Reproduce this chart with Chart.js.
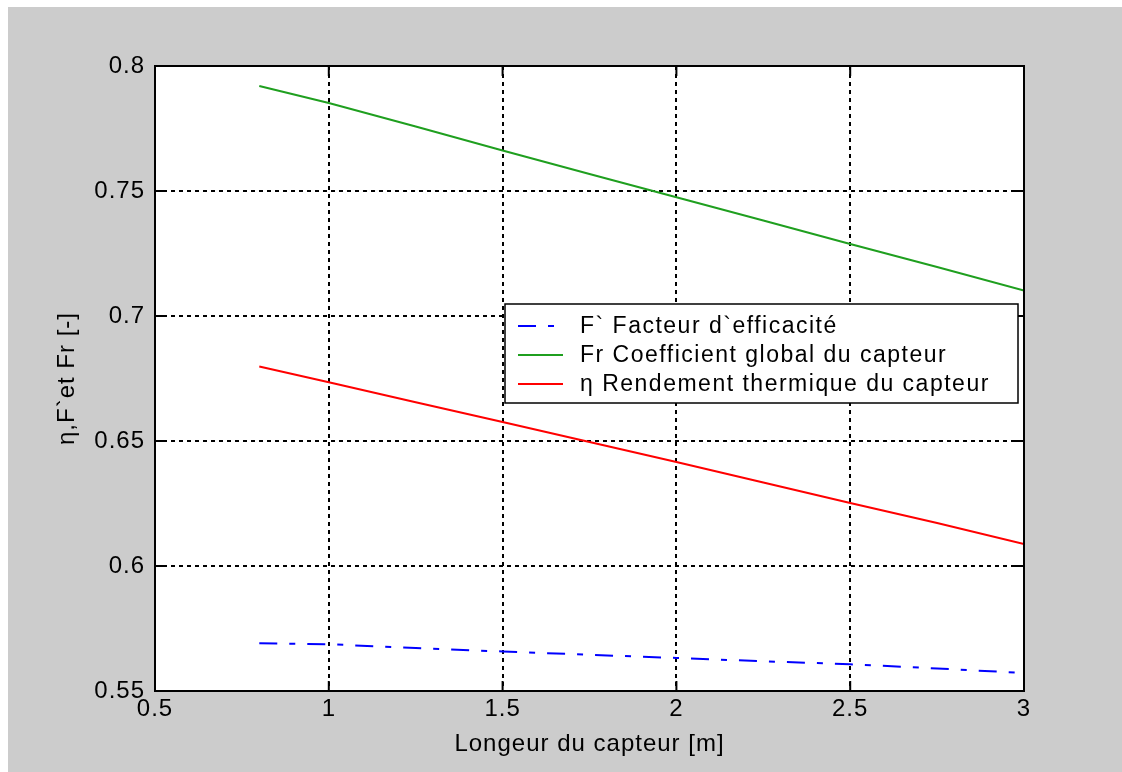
<!DOCTYPE html>
<html>
<head>
<meta charset="utf-8">
<script src="https://cdn.jsdelivr.net/npm/chart.js@4.4.0/dist/chart.umd.min.js"></script>
<style>
html, body { margin: 0; padding: 0; background: #ffffff; }
#wrap { position: absolute; left: 8px; top: 7px; width: 1114px; height: 765px; background: #cccccc; }
</style>
</head>
<body>
<div id="wrap"><canvas id="graph"></canvas></div>
<script>
// valeurs
const longueur   = [0.8, 1.0, 1.25, 1.5, 1.75, 2.0, 2.25, 2.5, 2.75, 3.0];
const facteurEff = [0.5691, 0.5687, 0.5672, 0.5658, 0.5645, 0.5632, 0.5619, 0.5607, 0.5590, 0.5572];
const coefGlobal = [0.7920, 0.7852, 0.7758, 0.7662, 0.7568, 0.7475, 0.7382, 0.7288, 0.7196, 0.7102];
const rendement  = [0.6798, 0.6735, 0.6655, 0.6576, 0.6496, 0.6416, 0.6334, 0.6252, 0.6172, 0.6088];

const xTicks = [0.5, 1, 1.5, 2, 2.5, 3];
const yTicks = [0.55, 0.6, 0.65, 0.7, 0.75, 0.8];

const labels = ["F` Facteur d`efficacité", "Fr Coefficient global du capteur", "η Rendement thermique du capteur"];

const FONT = "'Liberation Sans', Arial, sans-serif";

function pts(ys){
    return longueur.map((x, i) => ({ x: x, y: ys[i] }));
}

// fond blanc, cadre, petites graduations, légende
const matlabLook = {
    id: "matlabLook",
    beforeLayout(chart){ chart.ctx.letterSpacing = "1px"; },
    beforeDraw(chart){
        const a = chart.chartArea, ctx = chart.ctx;
        ctx.letterSpacing = "1px";
        ctx.save();
        ctx.fillStyle = "#ffffff";
        ctx.fillRect(a.left, a.top, a.right - a.left, a.bottom - a.top);
        ctx.restore();
    },
    afterDraw(chart){
        const a = chart.chartArea, ctx = chart.ctx;
        const sx = chart.scales.x, sy = chart.scales.y;
        ctx.save();
        ctx.strokeStyle = "#000";
        ctx.lineWidth = 2;
        ctx.setLineDash([]);
        ctx.beginPath();
        for (let v of xTicks){
            const px = sx.getPixelForValue(v);
            ctx.moveTo(px, a.bottom); ctx.lineTo(px, a.bottom - 10);
            ctx.moveTo(px, a.top);    ctx.lineTo(px, a.top + 10);
        }
        for (let v of yTicks){
            const py = sy.getPixelForValue(v);
            ctx.moveTo(a.left, py);  ctx.lineTo(a.left + 10, py);
            ctx.moveTo(a.right, py); ctx.lineTo(a.right - 10, py);
        }
        ctx.stroke();
        ctx.lineWidth = 2;
        ctx.strokeRect(a.left, a.top, a.right - a.left, a.bottom - a.top);

        // légende
        const w = 513, h = 99;
        const bx = a.right - 6 - w, by = a.top + 238;
        ctx.fillStyle = "#ffffff";
        ctx.fillRect(bx, by, w, h);
        ctx.lineWidth = 1.5;
        ctx.strokeRect(bx, by, w, h);
        ctx.font = "23px " + FONT;
        ctx.letterSpacing = "1.5px";
        ctx.textBaseline = "middle";
        chart.data.datasets.forEach((ds, i) => {
            const ry = by + 22 + i * 29;
            ctx.strokeStyle = ds.borderColor;
            ctx.lineWidth = 2;
            ctx.setLineDash(ds.borderDash || []);
            ctx.beginPath();
            ctx.moveTo(bx + 13, ry); ctx.lineTo(bx + 58, ry);
            ctx.stroke();
            ctx.setLineDash([]);
            ctx.fillStyle = "#000";
            ctx.fillText(ds.label, bx + 75, ry + 1);
        });
        ctx.restore();
    }
};

const ctx = document.getElementById("graph").getContext("2d");

const chart = new Chart(ctx, {
    type: "line",
    data: {
        datasets: [
            { label: labels[0], data: pts(facteurEff), borderColor: "#0000ff", borderWidth: 2, borderDash: [18, 12, 6, 12] },
            { label: labels[1], data: pts(coefGlobal), borderColor: "#1f9f1f", borderWidth: 2 },
            { label: labels[2], data: pts(rendement),  borderColor: "#ff0000", borderWidth: 2 }
        ]
    },
    options: {
        responsive: true,
        maintainAspectRatio: false,
        animation: false,
        elements: { point: { radius: 0 }, line: { tension: 0, fill: false } },
        layout: { padding: { top: 59, right: 98, left: 0, bottom: 0 } },
        plugins: { legend: { display: false }, tooltip: { enabled: false } },
        scales: {
            x: {
                type: "linear",
                min: 0.5, max: 3,
                afterBuildTicks: (s) => { s.ticks = xTicks.map(v => ({ value: v })); },
                afterFit: (s) => { s.height = 81; },
                ticks: {
                    color: "#000", padding: 4,
                    font: { family: FONT, size: 24 },
                    callback: (v) => String(v)
                },
                grid: { color: "#000", lineWidth: 2, drawTicks: false },
                border: { display: false, dash: [4, 4] },
                title: {
                    display: true, text: "Longeur du capteur [m]", color: "#000",
                    font: { family: FONT, size: 24 },
                    padding: { top: 0, bottom: 13 }
                }
            },
            y: {
                type: "linear",
                min: 0.55, max: 0.8,
                afterBuildTicks: (s) => { s.ticks = yTicks.map(v => ({ value: v })); },
                afterFit: (s) => { s.width = 147; },
                ticks: {
                    color: "#000", padding: 10,
                    font: { family: FONT, size: 24 },
                    callback: (v) => String(v)
                },
                grid: { color: "#000", lineWidth: 2, drawTicks: false },
                border: { display: false, dash: [4, 4] },
                title: {
                    display: true, text: "η,F`et Fr [-]", color: "#000",
                    font: { family: FONT, size: 24 },
                    padding: { top: 45, bottom: 0 }
                }
            }
        }
    },
    plugins: [matlabLook]
});
</script>
</body>
</html>
